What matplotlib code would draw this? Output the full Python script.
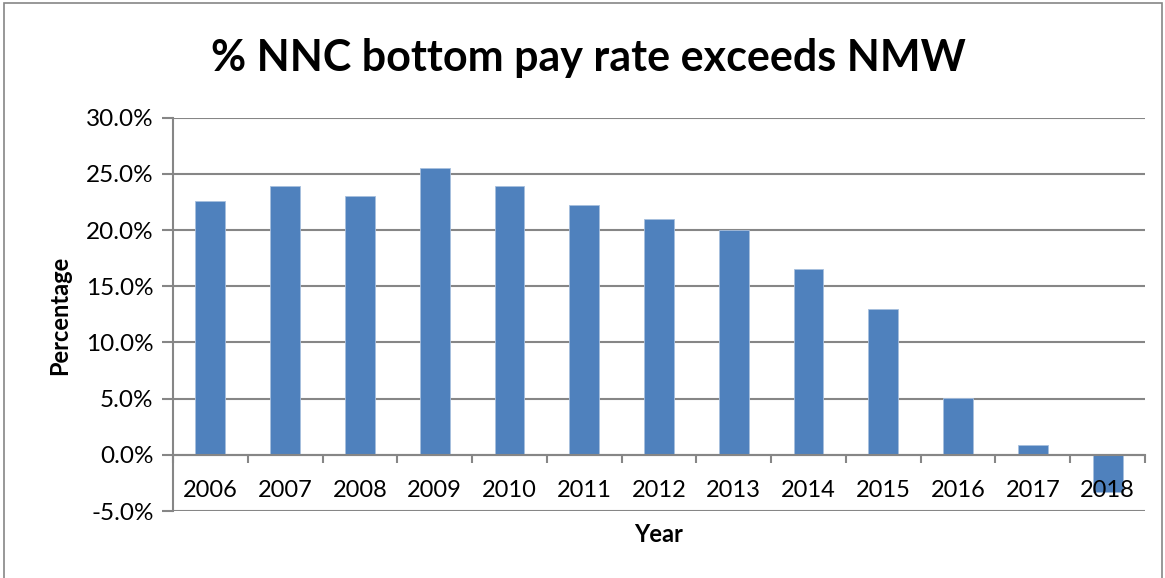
import matplotlib.pyplot as plt
from matplotlib.patches import Rectangle
from matplotlib.ticker import FuncFormatter

years = ["2006", "2007", "2008", "2009", "2010", "2011", "2012",
         "2013", "2014", "2015", "2016", "2017", "2018"]
pct_above_nmw = [22.6, 23.9, 23.0, 25.55, 23.95, 22.2, 21.0,
                 20.0, 16.5, 12.95, 5.1, 0.9, -3.3]
y_ticks = [-5, 0, 5, 10, 15, 20, 25, 30]

plt.rcParams["font.family"] = ["Lato", "DejaVu Sans"]

W, H = 1165, 578
fig = plt.figure(figsize=(W / 100, H / 100), dpi=100)
fig.patch.set_facecolor("white")

# chart area frame
fig.patches.append(Rectangle((4 / W, -0.05), 1158 / W, 1.05 - 3 / H,
                             transform=fig.transFigure, fill=False,
                             edgecolor="#868686", linewidth=1.2))

ax = fig.add_axes([173 / W, 1 - 511 / H, (1145 - 173) / W, (511 - 117.7) / H])
grey = "#868686"

x = list(range(len(years)))
ax.bar(x, pct_above_nmw, width=0.4, color="#4F81BD",
       edgecolor="#A7BFDE", linewidth=0.6, zorder=3)

ax.set_xlim(-0.5, len(years) - 0.5)
ax.set_ylim(-5, 30)
ax.set_yticks(y_ticks)
ax.yaxis.set_major_formatter(FuncFormatter(lambda v, p: f"{v:.1f}%"))
ax.grid(axis="y", color=grey, linewidth=1.5, zorder=0)
ax.set_axisbelow(True)

for s in ("top", "right"):
    ax.spines[s].set_visible(False)
ax.spines["left"].set_color(grey)
ax.spines["left"].set_linewidth(1.5)
ax.spines["bottom"].set_position(("data", 0))
ax.spines["bottom"].set_color(grey)
ax.spines["bottom"].set_linewidth(1.5)
ax.spines["bottom"].set_zorder(4)

ax.set_xticks(x)
ax.set_xticklabels(years)
ax.set_xticks([i - 0.5 for i in range(len(years) + 1)], minor=True)
ax.tick_params(axis="x", which="major", length=0, pad=18, labelsize=17)
ax.tick_params(axis="x", which="minor", length=6, width=1.5, color=grey,
               direction="out")
ax.tick_params(axis="y", length=8, width=1.5, color=grey, pad=6,
               labelsize=17.5)
# year labels sit on top of the negative bar
ax.xaxis.set_zorder(5)

fig.text(588 / W, 1 - 58 / H, "% NNC bottom pay rate exceeds NMW",
         ha="center", va="center", fontsize=31, fontweight="bold")
fig.text(60 / W, 1 - 315 / H, "Percentage", rotation=90, ha="center",
         va="center", fontsize=17, fontweight="bold")
fig.text(659 / W, 1 - 534 / H, "Year", ha="center", va="center",
         fontsize=17, fontweight="bold")

fig.savefig("out.png", dpi=100)
